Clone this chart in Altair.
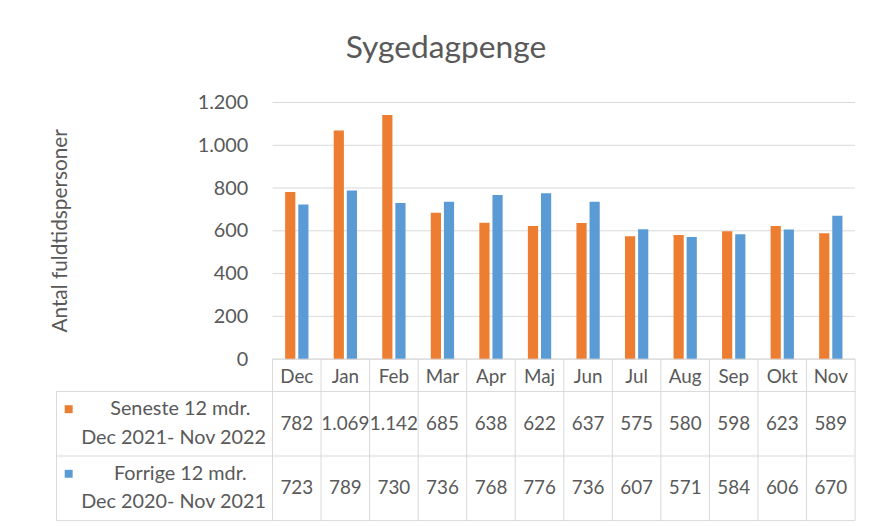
import altair as alt
import pandas as pd

# ---------------- data ----------------
months = ["Dec", "Jan", "Feb", "Mar", "Apr", "Maj", "Jun", "Jul", "Aug", "Sep", "Okt", "Nov"]
seneste = [782, 1069, 1142, 685, 638, 622, 637, 575, 580, 598, 623, 589]
forrige = [723, 789, 730, 736, 768, 776, 736, 607, 571, 584, 606, 670]
series_names = ["Seneste 12 mdr.", "Forrige 12 mdr."]
series_periods = ["Dec 2021- Nov 2022", "Dec 2020- Nov 2021"]
y_ticks = [0, 200, 400, 600, 800, 1000, 1200]

# ---------------- style ----------------
ORANGE = "#ED7D31"
BLUE = "#5B9BD5"
GRID = "#D9D9D9"
TEXT = "#595959"
FONT = "Lato"

COL_PX = 49.0                 # pixel width of one month column
LABEL_COLS = 218.0 / COL_PX   # row-label column width, in month-column units
N = len(months)
XDOM = [-LABEL_COLS, N]
W_TOTAL = (LABEL_COLS + N) * COL_PX


def dk(v):
    return f"{v:,}".replace(",", ".")


# bar table
bar_rows = []
offsets = [(0.26, 0.47), (0.53, 0.74)]
for s_i, vals in enumerate([seneste, forrige]):
    for i, m in enumerate(months):
        bar_rows.append(dict(month=m, series=series_names[s_i], value=vals[i],
                             x0=i + offsets[s_i][0], x1=i + offsets[s_i][1]))
bars_df = pd.DataFrame(bar_rows)

grid_df = pd.DataFrame(dict(tick=y_ticks, x0=[0] * len(y_ticks), x1=[N] * len(y_ticks)))

x_scale = alt.Scale(domain=XDOM, nice=False, zero=False)
y_scale = alt.Scale(domain=[0, 1200], nice=False)
color_scale = alt.Scale(domain=series_names, range=[ORANGE, BLUE])

grid = alt.Chart(grid_df).mark_rule(color=GRID, strokeWidth=1).encode(
    x=alt.X("x0:Q", scale=x_scale, axis=None),
    x2="x1:Q",
    y=alt.Y("tick:Q", scale=y_scale,
            axis=alt.Axis(values=y_ticks,
                          labelExpr="replace(format(datum.value, ','), ',', '.')",
                          title="Antal fuldtidspersoner",
                          offset=-218, domain=False, ticks=False, tickSize=0, grid=False,
                          labelFont=FONT, labelFontSize=20, labelColor=TEXT, labelPadding=25,
                          titleFont=FONT, titleFontSize=21, titleColor=TEXT,
                          titleFontWeight="normal", titleX=-204, titleY=129)),
)

bars = alt.Chart(bars_df).mark_rect().encode(
    x=alt.X("x0:Q", scale=x_scale, axis=None),
    x2="x1:Q",
    y=alt.Y("value:Q", scale=y_scale),
    y2=alt.datum(0),
    color=alt.Color("series:N", scale=color_scale, legend=None),
)

top = alt.layer(grid, bars).properties(
    width=W_TOTAL, height=259,
    title=alt.Title("Sygedagpenge", font=FONT, fontSize=32, fontWeight="normal",
                    color=TEXT, anchor="middle", baseline="alphabetic", offset=3, dx=-10),
)

# ---------------- data table below ----------------
# row layout in table units: header 0-1, row 1: 1-3, row 2: 3-5
ty_scale = alt.Scale(domain=[0, 5], reverse=True, nice=False, zero=False)
row_centers = [2, 4]

h_lines = pd.DataFrame(dict(y=[0, 1, 3, 5], x0=[0, -LABEL_COLS, -LABEL_COLS, -LABEL_COLS],
                            x1=[N] * 4))
v_lines = pd.DataFrame(dict(x=[-LABEL_COLS] + list(range(N + 1)),
                            y0=[1] + [0] * (N + 1), y1=[5] * (N + 2)))

header_df = pd.DataFrame(dict(x=[i + 0.5 for i in range(N)], y=[0.55] * N, text=months))
val_rows = []
for s_i, vals in enumerate([seneste, forrige]):
    for i, v in enumerate(vals):
        val_rows.append(dict(x=i + 0.5, y=row_centers[s_i], text=dk(v)))
vals_df = pd.DataFrame(val_rows)

label_df = pd.DataFrame(dict(
    x=[-LABEL_COLS + 2.55] * 2 + [-LABEL_COLS + 2.41] * 2,
    y=[c - 0.44 for c in row_centers] + [c + 0.44 for c in row_centers],
    text=series_names + series_periods))
key_df = pd.DataFrame(dict(x=[-LABEL_COLS + 0.25] * 2, y=[c - 0.45 for c in row_centers],
                           series=series_names))

hl = alt.Chart(h_lines).mark_rule(color=GRID, strokeWidth=1).encode(
    x=alt.X("x0:Q", scale=x_scale, axis=None), x2="x1:Q",
    y=alt.Y("y:Q", scale=ty_scale, axis=None))
vl = alt.Chart(v_lines).mark_rule(color=GRID, strokeWidth=1).encode(
    x=alt.X("x:Q", scale=x_scale, axis=None),
    y=alt.Y("y0:Q", scale=ty_scale, axis=None), y2="y1:Q")

txt_kw = dict(font=FONT, fontSize=19, color=TEXT, align="center", baseline="middle")
header = alt.Chart(header_df).mark_text(**txt_kw).encode(
    x=alt.X("x:Q", scale=x_scale, axis=None), y=alt.Y("y:Q", scale=ty_scale, axis=None),
    text="text:N")
values = alt.Chart(vals_df).mark_text(**txt_kw).encode(
    x=alt.X("x:Q", scale=x_scale, axis=None), y=alt.Y("y:Q", scale=ty_scale, axis=None),
    text="text:N")
lbl_kw = dict(txt_kw)
lbl_kw["fontSize"] = 20
labels = alt.Chart(label_df).mark_text(**lbl_kw).encode(
    x=alt.X("x:Q", scale=x_scale, axis=None), y=alt.Y("y:Q", scale=ty_scale, axis=None),
    text="text:N")
keys = alt.Chart(key_df).mark_point(shape="square", filled=True, size=64, opacity=1).encode(
    x=alt.X("x:Q", scale=x_scale, axis=None), y=alt.Y("y:Q", scale=ty_scale, axis=None),
    color=alt.Color("series:N", scale=color_scale, legend=None))

bottom = alt.layer(hl, vl, header, values, labels, keys).properties(width=W_TOTAL, height=163)

chart = alt.vconcat(top, bottom, spacing=0, bounds="flush").resolve_scale(
    y="independent"
).properties(
    padding={"left": 42, "top": 22, "right": 9, "bottom": 0},
).configure_view(stroke=None)

chart.save("out.html", embed_options={"renderer": "svg", "actions": False})
